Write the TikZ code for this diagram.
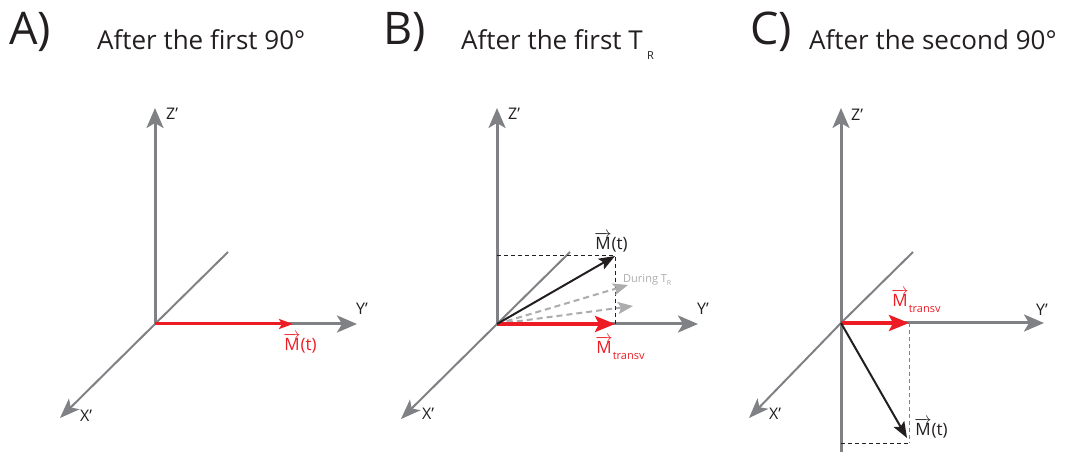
\documentclass[tikz,border=0pt]{standalone}
\usepackage{fontspec}
\setmainfont{Open Sans}
\usetikzlibrary{arrows.meta}
\definecolor{axisgray}{RGB}{128,129,132}
\definecolor{magred}{RGB}{237,28,36}
\definecolor{magblack}{RGB}{35,31,32}
\definecolor{tracegray}{RGB}{172,172,174}
\newcommand{\vM}{$\overrightarrow{\hbox{M}}$}
\newcommand{\lowsub}[1]{\raisebox{-0.7ex}{\fontsize{11}{11}\selectfont #1}}
\tikzset{axis/.style={draw=axisgray,line width=3pt,-{Stealth[length=20pt,width=17pt,inset=5pt]}},
  backaxis/.style={draw=axisgray,line width=2pt},
  xaxis/.style={backaxis,-{Stealth[length=20pt,width=15pt,inset=5pt]}},
  redvec/.style={draw=magred,line width=3.5pt,-{Stealth[length=20pt,width=16pt,inset=4pt]}},
  blackvec/.style={draw=magblack,line width=2pt,-{Stealth[length=16pt,width=12pt,inset=3pt]}},
  tracevec/.style={draw=tracegray,line width=2pt,dash pattern=on 6pt off 4pt,-{Stealth[length=15pt,width=12pt,inset=3pt]}},
  guide/.style={draw=magblack,line width=1pt,dash pattern=on 4pt off 3pt},
  panel/.style={font=\fontsize{45}{45}\selectfont,text=magblack,inner sep=0pt,anchor=base west},
  title/.style={font=\fontsize{26}{30}\selectfont,text=magblack,inner sep=0pt,anchor=base west},
  axlabel/.style={font=\fontsize{16}{16}\selectfont,text=magblack,inner sep=0pt},
  veclabel/.style={font=\fontsize{17}{17}\selectfont,inner sep=0pt}}

\begin{document}
\begin{tikzpicture}[x=1pt,y=-1pt]
  \path[use as bounding box] (0,0) rectangle (1066,454);
  % A) after the first 90
  \node[panel] (labA) at (9,45) {A)};
  \node[title] (titA) at (97,50) {After the first 90°};
  \coordinate (oA) at (155,324);
  \coordinate (zA) at (155,108);
  \coordinate (yA) at (357,324);
  \coordinate (xA) at (60,418);
  \coordinate (bA) at (228,252);
  \coordinate (mA) at (293,324);
  \draw[backaxis] (oA) -- (bA);
  \draw[xaxis] (oA) -- (xA);
  \draw[axis] (oA) -- (zA);
  \draw[axis] (oA) -- (yA);
  \draw[redvec,line width=3pt,-{Stealth[length=14pt,width=10pt,inset=3pt]}] (oA) -- (mA);
  \node[axlabel,anchor=west] (zlA) at (166,114) {Z’};
  \node[axlabel] (ylA) at (362,309) {Y’};
  \node[axlabel] (xlA) at (86,416) {X’};
  \node[veclabel,text=magred] (mlA) at (300,343) {\vM(t)};
  % B) after the first TR
  \node[panel] (labB) at (383,45) {B)};
  \node[title] (titB) at (461,50) {After the first T\,\lowsub{R}};
  \coordinate (oB) at (497,324);
  \coordinate (zB) at (497,108);
  \coordinate (yB) at (698,324);
  \coordinate (xB) at (401,419);
  \coordinate (bB) at (570,252);
  \coordinate (mB) at (615,256);
  \coordinate (pB) at (615,324);
  \coordinate (hB) at (497,256);
  \coordinate (t1B) at (628,285);
  \coordinate (t2B) at (633,306);
  \draw[backaxis] (oB) -- (bB);
  \draw[xaxis] (oB) -- (xB);
  \draw[axis] (oB) -- (zB);
  \draw[axis] (oB) -- (yB);
  \draw[guide] (hB) -- (mB) -- (pB);
  \draw[tracevec] (oB) -- (t1B);
  \draw[tracevec] (oB) -- (t2B);
  \draw[redvec] (oB) -- (pB);
  \draw[blackvec] (oB) -- (mB);
  \node[axlabel,anchor=west] (zlB) at (508,114) {Z’};
  \node[axlabel] (ylB) at (703,309) {Y’};
  \node[axlabel] (xlB) at (428,414) {X’};
  \node[veclabel,text=magblack] (mlB) at (611,242) {\vM(t)};
  \node[veclabel,text=magred] (mtB) at (620,348) {\vM\lowsub{transv}};
  \node[font=\fontsize{11}{11}\selectfont,text=tracegray,inner sep=0pt,anchor=west] (durB) at (623,280) {During T\raisebox{-0.6ex}{\fontsize{7}{7}\selectfont R}};
  % C) after the second 90
  \node[panel] (labC) at (750,45) {C)};
  \node[title] (titC) at (809,50) {After the second 90°};
  \coordinate (oC) at (841,323);
  \coordinate (zC) at (841,108);
  \coordinate (dC) at (841,452);
  \coordinate (yC) at (1044,323);
  \coordinate (xC) at (749,418);
  \coordinate (bC) at (913,252);
  \coordinate (pC) at (909,323);
  \coordinate (mC) at (907,438);
  \coordinate (cC) at (909,443);
  \coordinate (hC) at (841,443);
  \draw[backaxis] (oC) -- (bC);
  \draw[xaxis] (oC) -- (xC);
  \draw[axis] (oC) -- (zC);
  \draw[axisgray,line width=3pt] (oC) -- (dC);
  \draw[axis] (oC) -- (yC);
  \draw[guide,draw=axisgray] (pC) -- (cC);
  \draw[guide] (hC) -- (cC);
  \draw[redvec] (oC) -- (pC);
  \draw[blackvec] (oC) -- (mC);
  \node[axlabel,anchor=west] (zlC) at (851,115) {Z’};
  \node[axlabel] (ylC) at (1042,310) {Y’};
  \node[axlabel] (xlC) at (775,414) {X’};
  \node[veclabel,text=magblack] (mlC) at (931,428) {\vM(t)};
  \node[veclabel,text=magred] (mtC) at (916,301) {\vM\lowsub{transv}};
\end{tikzpicture}
\end{document}
